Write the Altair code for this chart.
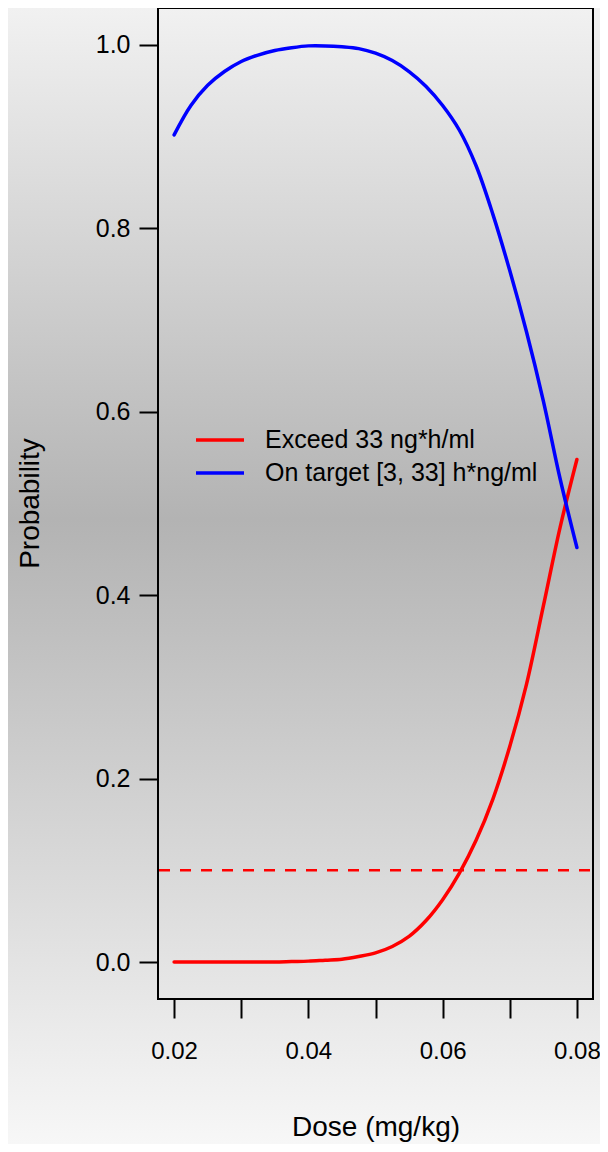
import altair as alt
import pandas as pd

# ---- data ----
dose = [0.0200, 0.0225, 0.0250, 0.0275, 0.0300, 0.0325, 0.0350, 0.0375, 0.0400,
        0.0425, 0.0450, 0.0475, 0.0500, 0.0525, 0.0550, 0.0575, 0.0600, 0.0625,
        0.0650, 0.0675, 0.0700, 0.0725, 0.0750, 0.0775, 0.0800]
p_exceed = [0.000, 0.000, 0.000, 0.000, 0.000, 0.000, 0.000, 0.0005, 0.001,
            0.002, 0.003, 0.006, 0.010, 0.017, 0.028, 0.045, 0.068, 0.097,
            0.133, 0.178, 0.235, 0.303, 0.388, 0.474, 0.548]
p_target = [0.902, 0.934, 0.956, 0.971, 0.982, 0.989, 0.994, 0.997, 0.999,
            0.999, 0.998, 0.996, 0.991, 0.983, 0.971, 0.955, 0.934, 0.907,
            0.868, 0.815, 0.754, 0.687, 0.612, 0.527, 0.452]
series_names = ["Exceed 33 ng*h/ml", "On target [3, 33] h*ng/ml"]
series_colors = ["#ff0000", "#0000ff"]
threshold = [0.1]
x_ticks = [0.02, 0.03, 0.04, 0.05, 0.06, 0.07, 0.08]
y_ticks = [0.0, 0.2, 0.4, 0.6, 0.8, 1.0]

W, H = 435, 991
PAD_R, PAD_B = 7, 145
FONT = "Liberation Sans"

n = len(dose)
df = pd.DataFrame({
    "dose": dose + dose,
    "prob": p_exceed + p_target,
    "series": [series_names[0]] * n + [series_names[1]] * n,
})
one = pd.DataFrame({"a": [0]})
thr = pd.DataFrame({"y": threshold})

xscale = alt.Scale(domain=[0.0176, 0.0824], nice=False, zero=False)
yscale = alt.Scale(domain=[-0.0403, 1.0403], nice=False, zero=False)

grad = alt.LinearGradient(
    gradient="linear",
    stops=[
        alt.GradientStop(color="#f1f1f1", offset=0.0),
        alt.GradientStop(color="#b3b3b3", offset=0.45),
        alt.GradientStop(color="#f7f7f7", offset=1.0),
    ],
    x1=0, x2=0, y1=0, y2=1,
)

bg = alt.Chart(one).mark_rect(color=grad).encode(
    x=alt.value(-150), x2=alt.value(W + PAD_R),
    y=alt.value(0), y2=alt.value(H + PAD_B),
)

rule = alt.Chart(thr).mark_rule(color="#ff0000", strokeWidth=2.5, strokeDash=[11, 10]).encode(
    y=alt.Y("y:Q", scale=yscale),
    x=alt.value(1), x2=alt.value(W + PAD_R),
)

x_axis = alt.Axis(
    values=x_ticks,
    labelExpr="round(datum.value*100) % 2 == 0 ? format(datum.value, '.2f') : ''",
    tickSize=19, tickWidth=2, tickColor="black", domain=False, grid=False,
    labelFontSize=24, labelFont=FONT, labelColor="black", labelPadding=21,
    labelFlush=False, labelOverlap=False,
    title="Dose (mg/kg)", titleFontSize=28, titleFont=FONT, titleFontWeight="normal",
    titleColor="black", titleY=128, titleBaseline="middle", zindex=1,
)
y_axis = alt.Axis(
    values=y_ticks, format=".1f",
    tickSize=19, tickWidth=2, tickColor="black", domain=False, grid=False,
    labelFontSize=25, labelFont=FONT, labelColor="black", labelPadding=9,
    labelFlush=False, labelOverlap=False,
    title="Probability", titleFontSize=28, titleFont=FONT, titleFontWeight="normal",
    titleColor="black", titleX=-128, titleY=495, titleAngle=270,
    titleAlign="center", titleBaseline="middle", zindex=1,
)

lines = alt.Chart(df).mark_line(strokeWidth=3.5, strokeCap="round", strokeJoin="round",
                                interpolate="catmull-rom").encode(
    x=alt.X("dose:Q", scale=xscale, axis=x_axis),
    y=alt.Y("prob:Q", scale=yscale, axis=y_axis),
    color=alt.Color(
        "series:N",
        scale=alt.Scale(domain=series_names, range=series_colors),
        sort=series_names,
        legend=alt.Legend(
            title=None, orient="none", legendX=36, legendY=420,
            symbolType="stroke", symbolSize=2304, symbolStrokeWidth=3.5,
            labelFontSize=25, labelFont=FONT, labelColor="black", labelOffset=19,
            labelLimit=500, padding=0, rowPadding=8, clipHeight=24,
        ),
    ),
)

frame = alt.Chart(one).mark_rect(filled=False, stroke="black", strokeWidth=2).encode(
    x=alt.value(0), x2=alt.value(W), y=alt.value(0), y2=alt.value(H),
)

chart = alt.layer(bg, rule, lines, frame).properties(
    width=W, height=H,
    padding={"left": 150, "top": 0, "right": PAD_R, "bottom": PAD_B},
    autosize=alt.AutoSizeParams(type="none"),
    background="white",
).configure_view(stroke=None)

chart.save("out.html", embed_options={"renderer": "svg", "actions": False})
